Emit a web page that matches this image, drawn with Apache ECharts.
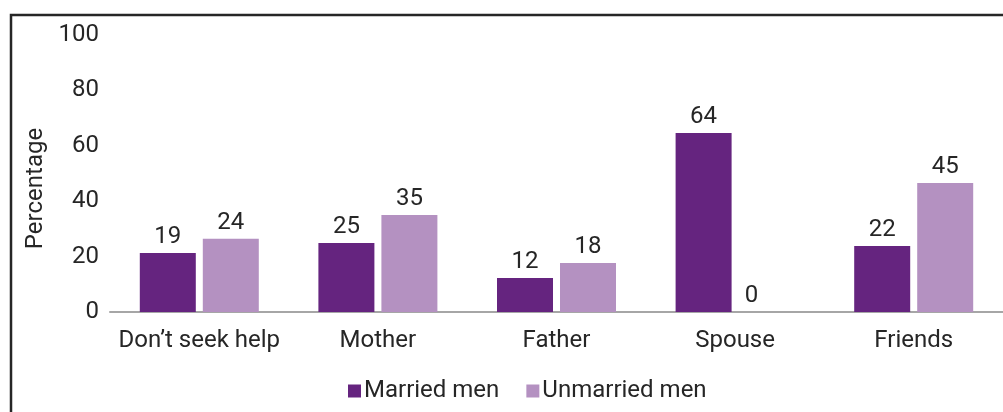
<!DOCTYPE html>
<html>
<head>
<meta charset="utf-8">
<script src="https://cdn.jsdelivr.net/npm/echarts@6/dist/echarts.min.js"></script>
<style>
  html, body { margin: 0; padding: 0; background: #fff; }
  #chart { width: 1003px; height: 412px; }
</style>
</head>
<body>
<div id="chart"></div>
<script>
const categories = ["Don\u2019t seek help", 'Mother', 'Father', 'Spouse', 'Friends']
// bar heights as drawn, and the numbers printed above them
const marriedValues = [21.3, 24.9, 12.3, 64.6, 23.8]
const marriedLabels = [19, 25, 12, 64, 22]
const unmarriedValues = [26.4, 35.0, 17.7, 0, 46.6]
const unmarriedLabels = [24, 35, 18, 0, 45]
const yTicks = [0, 20, 40, 60, 80, 100]

const textColor = '#262626'
const font = 'Roboto, "Noto Sans", sans-serif'
const fs = 24

function labelled(values, labels) {
  return values.map((v, i) => ({ value: v, label: { formatter: String(labels[i]) } }))
}

const chart = echarts.init(document.getElementById('chart'))
chart.setOption({
  backgroundColor: '#fff',
  animation: false,
  textStyle: { fontFamily: font },
  grid: { top: 35, bottom: 100, left: 110, right: -7, containLabel: false },
  legend: {
    left: 343, top: 374,
    icon: 'rect',
    itemWidth: 13, itemHeight: 13, itemGap: 27,
    textStyle: { color: textColor, fontSize: fs, fontFamily: font, padding: [0, 0, 0, -2] },
    data: ['Married men', 'Unmarried men'],
  },
  xAxis: {
    type: 'category',
    data: categories,
    axisLine: { lineStyle: { color: '#a6a6a6', width: 2 } },
    axisTick: { show: false },
    axisLabel: { color: textColor, fontSize: fs, margin: 17, interval: 0, fontFamily: font },
  },
  yAxis: {
    type: 'value',
    min: 0, max: 100, interval: 20,
    name: 'Percentage',
    nameLocation: 'middle',
    nameGap: 53,
    nameTextStyle: { color: textColor, fontSize: fs, fontFamily: font, padding: [0, 30, 0, 0] },
    axisLine: { show: false },
    axisTick: { show: false },
    splitLine: { show: false },
    axisLabel: {
      color: textColor, fontSize: fs, margin: 11, fontFamily: font,
      formatter: v => (yTicks.includes(v) ? String(v) : ''),
    },
  },
  series: [
    {
      name: 'Married men',
      type: 'bar',
      data: labelled(marriedValues, marriedLabels),
      barWidth: 56,
      barGap: '12.5%',
      itemStyle: { color: '#65247f' },
      label: { show: true, position: 'top', distance: 4, color: textColor, fontSize: fs, fontFamily: font },
    },
    {
      name: 'Unmarried men',
      type: 'bar',
      data: labelled(unmarriedValues, unmarriedLabels).map((d, i) =>
        i === 3 ? { ...d, label: { ...d.label, offset: [-15, 0] } } : d),
      barWidth: 56,
      itemStyle: { color: '#b491c1' },
      label: { show: true, position: 'top', distance: 4, color: textColor, fontSize: fs, fontFamily: font },
    },
  ],
  graphic: [{
    type: 'rect',
    shape: { x: 11, y: 15, width: 1010, height: 420 },
    style: { fill: 'none', stroke: '#262626', lineWidth: 2.5 },
    silent: true,
  }],
})
</script>
</body>
</html>
